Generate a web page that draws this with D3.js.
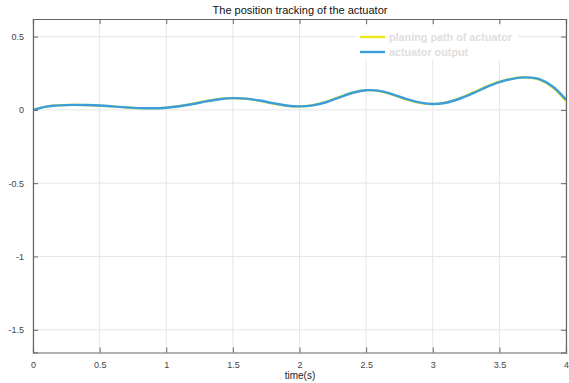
<!DOCTYPE html>
<html><head><meta charset="utf-8">
<script src="https://cdn.jsdelivr.net/npm/d3@7"></script>
<style>body{margin:0;background:#fff}svg{display:block}</style>
</head><body>
<svg id="c" width="569" height="383"></svg>
<script>
const times = [0,0.05,0.1,0.15,0.2,0.3,0.4,0.5,0.6,0.7,0.8,0.9,1.0,1.1,1.2,1.3,1.4,1.5,1.6,1.7,1.8,1.9,2.0,2.1,2.2,2.3,2.4,2.5,2.6,2.7,2.8,2.9,3.0,3.1,3.2,3.3,3.4,3.5,3.6,3.7,3.8,3.9,4.0];
const outputVals = [0.000,0.012,0.022,0.028,0.031,0.034,0.033,0.030,0.024,0.017,0.012,0.011,0.015,0.025,0.040,0.058,0.073,0.080,0.077,0.064,0.046,0.030,0.024,0.031,0.052,0.085,0.117,0.134,0.130,0.106,0.075,0.051,0.040,0.049,0.076,0.113,0.154,0.189,0.212,0.222,0.210,0.160,0.070];
const planVals = [0.000,0.013,0.023,0.029,0.032,0.034,0.033,0.029,0.023,0.016,0.011,0.011,0.016,0.027,0.043,0.061,0.075,0.080,0.075,0.061,0.043,0.028,0.024,0.033,0.056,0.089,0.120,0.135,0.128,0.102,0.071,0.048,0.040,0.052,0.080,0.118,0.159,0.193,0.215,0.222,0.205,0.152,0.060];
const xTicks = [0,0.5,1,1.5,2,2.5,3,3.5,4];
const yTicks = [0.5,0,-0.5,-1,-1.5];
const titleText = "The position tracking of the actuator";
const xLabel = "time(s)";
const seriesNames = ["planing path of actuator","actuator output"];

const svg = d3.select("#c");
const L=33, R=566, T=19, B=352.5;
const x = d3.scaleLinear().domain([0,4]).range([L,R]);
const y = d3.scaleLinear().domain([-1.655,0.62]).range([B,T]);
const font = "'Liberation Sans', Arial, sans-serif";
const fmt = d => String(d);

// grid
svg.append("g").selectAll("line").data(xTicks).join("line")
  .attr("x1",d=>x(d)).attr("x2",d=>x(d)).attr("y1",T).attr("y2",B)
  .attr("stroke","#e6e6e6").attr("stroke-width",1);
svg.append("g").selectAll("line").data(yTicks).join("line")
  .attr("x1",L).attr("x2",R).attr("y1",d=>y(d)).attr("y2",d=>y(d))
  .attr("stroke","#e6e6e6").attr("stroke-width",1);

// lines
const line = (vals)=>d3.line().x((d,i)=>x(times[i])).y(d=>y(d)).curve(d3.curveCatmullRom.alpha(0.5))(vals);
svg.append("path").attr("d",line(planVals)).attr("fill","none").attr("stroke","#e8e614").attr("stroke-width",2.2);
svg.append("path").attr("d",line(outputVals)).attr("fill","none").attr("stroke","#3b9ddb").attr("stroke-width",2.4);

// axes
const axColor="#666";
const gx = svg.append("g").attr("transform",`translate(0,${B})`)
  .call(d3.axisBottom(x).tickValues(xTicks).tickSize(-5).tickPadding(9).tickFormat(fmt));
const gxt = svg.append("g").attr("transform",`translate(0,${T})`)
  .call(d3.axisTop(x).tickValues(xTicks).tickSize(-5).tickFormat(""));
const gy = svg.append("g").attr("transform",`translate(${L},0)`)
  .call(d3.axisLeft(y).tickValues(yTicks).tickSize(-5).tickPadding(9).tickFormat(fmt));
const gyr = svg.append("g").attr("transform",`translate(${R},0)`)
  .call(d3.axisRight(y).tickValues(yTicks).tickSize(-5).tickFormat(""));
[gx,gxt,gy,gyr].forEach(g=>{
  g.select(".domain").attr("stroke",axColor).attr("stroke-width",1.2);
  g.selectAll(".tick line").attr("stroke",axColor);
  g.selectAll("text").attr("fill","#444").style("font-family",font).style("font-size","9px");
});

// legend
const lg = svg.append("g");
lg.append("rect").attr("x",357).attr("y",26).attr("width",161).attr("height",34).attr("fill","#fff");
const ly=[37,52];
const lc=["#e8e614","#3b9ddb"];
seriesNames.forEach((n,i)=>{
  lg.append("line").attr("x1",360).attr("x2",385).attr("y1",ly[i]).attr("y2",ly[i]).attr("stroke",lc[i]).attr("stroke-width",2.4);
  lg.append("text").attr("x",389).attr("y",ly[i]+4).text(n)
    .attr("fill","#dedede").style("font-family",font).style("font-size","10.8px").style("font-weight","bold");
});

// title & label
svg.append("text").attr("x",300).attr("y",14).attr("text-anchor","middle").text(titleText)
  .style("font-family",font).style("font-size","11px").attr("fill","#111");
svg.append("text").attr("x",300).attr("y",379).attr("text-anchor","middle").text(xLabel)
  .style("font-family",font).style("font-size","10px").attr("fill","#222");
</script>
</body></html>
